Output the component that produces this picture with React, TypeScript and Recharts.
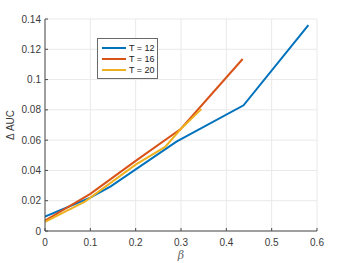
import React from 'react';
import { LineChart, Line, XAxis, YAxis, CartesianGrid, Legend } from 'recharts';

// beta values + delta AUC per T
const t12Beta = [0, 0.1, 0.145, 0.29, 0.438, 0.581];
const t12Auc = [0.0095, 0.022, 0.0295, 0.059, 0.083, 0.136];
const t16Beta = [0, 0.1, 0.2, 0.3, 0.436];
const t16Auc = [0.0068, 0.0245, 0.0463, 0.0675, 0.1136];
const t20Beta = [0, 0.088, 0.2, 0.265, 0.3, 0.345];
const t20Auc = [0.006, 0.0194, 0.0438, 0.0555, 0.0675, 0.0805];

const xTicks = [0, 0.1, 0.2, 0.3, 0.4, 0.5, 0.6];
const yTicks = [0, 0.02, 0.04, 0.06, 0.08, 0.1, 0.12, 0.14];

const seriesNames = ['T = 12', 'T = 16', 'T = 20'];
const COLORS = ['#0072BD', '#D95319', '#EDB120'];

const toPoints = (xs: number[], ys: number[]) => xs.map((b, i) => ({ beta: b, auc: ys[i] }));
const series = [
  toPoints(t12Beta, t12Auc),
  toPoints(t16Beta, t16Auc),
  toPoints(t20Beta, t20Auc),
];

const AXIS = '#4a4a4a';
const TEXT = '#3a3a3a';
const FONT = 'Liberation Sans, Arial, sans-serif';

// MATLAB style inward ticks
const BottomTick = ({ x, y, payload }: any) => (
  <g>
    <line x1={x} y1={y} x2={x} y2={y - 3} stroke={AXIS} />
    <text x={x} y={y + 15} textAnchor="middle" fill={TEXT} fontSize={10} fontFamily={FONT}>
      {payload.value}
    </text>
  </g>
);
const TopTick = ({ x, y }: any) => <line x1={x} y1={y} x2={x} y2={y + 3} stroke={AXIS} />;
const LeftTick = ({ x, y, payload }: any) => (
  <g>
    <line x1={x} y1={y} x2={x + 3} y2={y} stroke={AXIS} />
    <text x={x - 4} y={y + 3.5} textAnchor="end" fill={TEXT} fontSize={10} fontFamily={FONT}>
      {payload.value}
    </text>
  </g>
);
const RightTick = ({ x, y }: any) => <line x1={x} y1={y} x2={x - 3} y2={y} stroke={AXIS} />;

const LegendBox = () => (
  <div
    style={{
      width: 59,
      height: 39,
      background: '#fff',
      border: '1px solid #6a6a6a',
      fontFamily: FONT,
      fontSize: 9,
      color: '#222',
    }}
  >
    {seriesNames.map((name, i) => (
      <div key={name} style={{ display: 'flex', alignItems: 'center', height: 11.3, marginTop: i === 0 ? 3 : 0 }}>
        <span style={{ display: 'inline-block', width: 24, height: 2, background: COLORS[i], marginLeft: 4, marginRight: 3 }} />
        <span>{name}</span>
      </div>
    ))}
  </div>
);

const App = () => {
  return (
    <div style={{ position: 'absolute', left: 0, top: 0 }}>
      <LineChart width={350} height={263} margin={{ top: 19, right: 33, bottom: 0, left: 0 }}>
        <CartesianGrid stroke="#e9e9e9" />
        <XAxis
          dataKey="beta"
          type="number"
          domain={[0, 0.6]}
          ticks={xTicks}
          height={32}
          tickSize={0}
          tickMargin={0}
          tickLine={false}
          tick={BottomTick}
          stroke={AXIS}
          allowDataOverflow
          label={() => (
            <text x={181} y={259} textAnchor="middle" fill="#666" fontSize={11} fontStyle="italic" fontFamily="DejaVu Serif, serif">
              β
            </text>
          )}
        />
        <XAxis
          xAxisId="top"
          orientation="top"
          dataKey="beta"
          type="number"
          domain={[0, 0.6]}
          ticks={xTicks}
          height={0}
          tickSize={0}
          tickMargin={0}
          tickLine={false}
          tick={TopTick}
          stroke={AXIS}
          allowDataOverflow
        />
        <YAxis
          type="number"
          domain={[0, 0.14]}
          ticks={yTicks}
          width={45}
          tickSize={0}
          tickMargin={0}
          tickLine={false}
          tick={LeftTick}
          stroke={AXIS}
          allowDataOverflow
          label={() => (
            <text
              x={14}
              y={125}
              transform="rotate(-90 14 125)"
              textAnchor="middle"
              fill={TEXT}
              fontSize={10}
              fontFamily={FONT}
            >
              Δ AUC
            </text>
          )}
        />
        <YAxis
          yAxisId="right"
          orientation="right"
          type="number"
          domain={[0, 0.14]}
          ticks={yTicks}
          width={0}
          tickSize={0}
          tickMargin={0}
          tickLine={false}
          tick={RightTick}
          stroke={AXIS}
          allowDataOverflow
        />
        {series.map((pts, i) => (
          <Line
            key={seriesNames[i]}
            data={pts}
            dataKey="auc"
            name={seriesNames[i]}
            type="linear"
            stroke={COLORS[i]}
            strokeWidth={2}
            dot={false}
            isAnimationActive={false}
          />
        ))}
        <Legend
          layout="vertical"
          align="center"
          verticalAlign="middle"
          content={<LegendBox />}
          wrapperStyle={{ position: 'absolute', left: 97, top: 38, width: 'auto' }}
        />
      </LineChart>
    </div>
  );
};

export default App;
